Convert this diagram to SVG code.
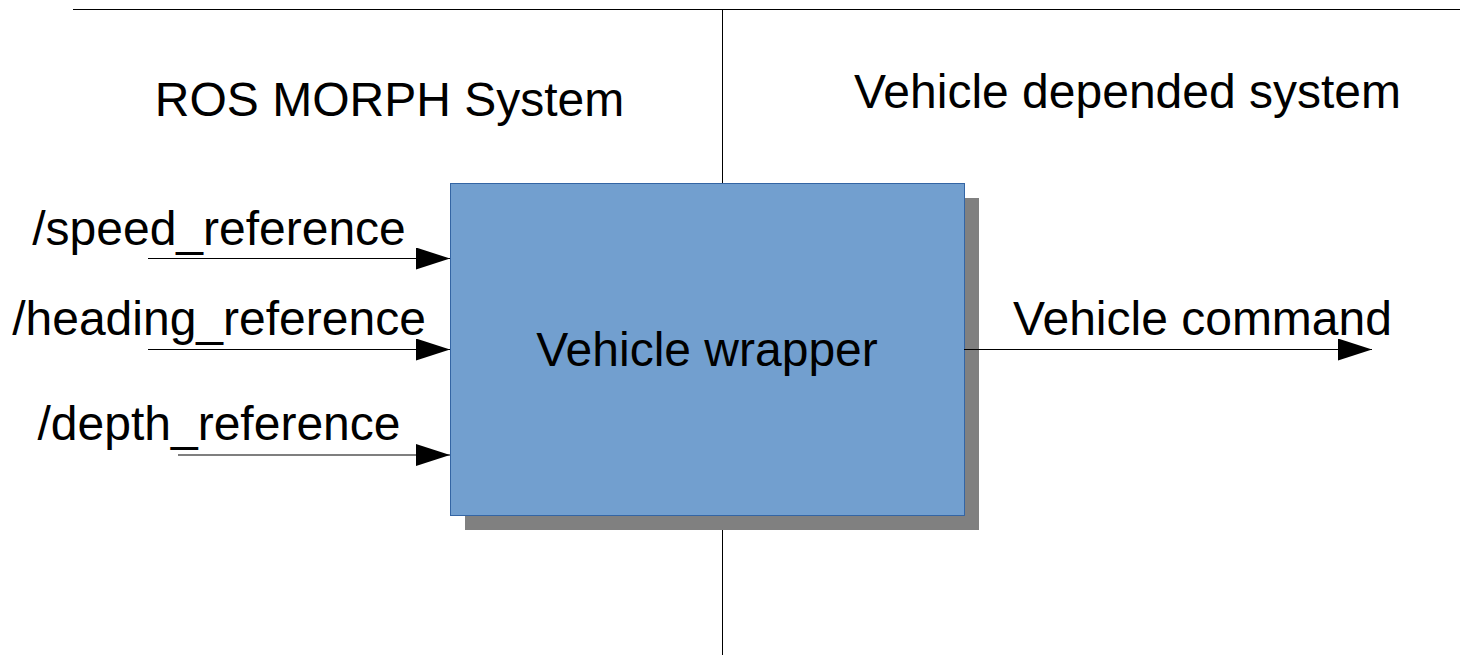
<svg xmlns="http://www.w3.org/2000/svg" width="1460" height="655" viewBox="0 0 1460 655">
  <defs>
    <marker id="arrow" markerWidth="34" markerHeight="22" refX="34" refY="11" orient="auto" markerUnits="userSpaceOnUse">
      <path d="M0,0 L34,11 L0,22 Z" fill="#000"/>
    </marker>
    <style>
      .lbl { font-family: "Liberation Sans", Arial, sans-serif; font-size: 48px; fill: #000; }
      .rule { stroke: #000; stroke-width: 1; fill: none; }
      .conn { stroke: #000; stroke-width: 1.2; fill: none; marker-end: url(#arrow); }
    </style>
  </defs>
  <rect width="1460" height="655" fill="#fff"/>

  <!-- boundary lines -->
  <g id="boundaries">
    <line class="rule" x1="73" y1="9.5" x2="1460" y2="9.5" stroke="#444"/>
    <line class="rule" x1="722.5" y1="9" x2="722.5" y2="655"/>
  </g>

  <!-- region titles -->
  <g id="titles">
    <text class="lbl" x="389.5" y="116" text-anchor="middle">ROS MORPH System</text>
    <text class="lbl" x="1127.5" y="108" text-anchor="middle">Vehicle depended system</text>
  </g>

  <!-- wrapper block with drop shadow -->
  <g id="vehicle-wrapper">
    <rect x="465" y="198" width="514" height="332" fill="#808080"/>
    <rect x="450.5" y="183.5" width="514" height="332" fill="#729fcf" stroke="#3465a4" stroke-width="1"/>
    <text class="lbl" x="707" y="366" text-anchor="middle">Vehicle wrapper</text>
  </g>

  <!-- topic labels -->
  <g id="speed-reference">
    <text class="lbl" x="219" y="245" text-anchor="middle">/speed_reference</text>
  </g>
  <g id="heading-reference">
    <text class="lbl" x="219" y="335" text-anchor="middle">/heading_reference</text>
  </g>
  <g id="depth-reference">
    <text class="lbl" x="219" y="440" text-anchor="middle">/depth_reference</text>
  </g>
  <g id="vehicle-command">
    <text class="lbl" x="1202.5" y="335" text-anchor="middle">Vehicle command</text>
  </g>

  <!-- connectors -->
  <g id="connectors">
    <line class="conn" x1="148" y1="258.5" x2="450" y2="258.5"/>
    <line class="conn" x1="148" y1="349.5" x2="450" y2="349.5"/>
    <line class="conn" x1="178" y1="455" x2="450" y2="455" stroke="#666"/>
    <line class="conn" x1="964" y1="349.5" x2="1372" y2="349.5"/>
  </g>
</svg>
